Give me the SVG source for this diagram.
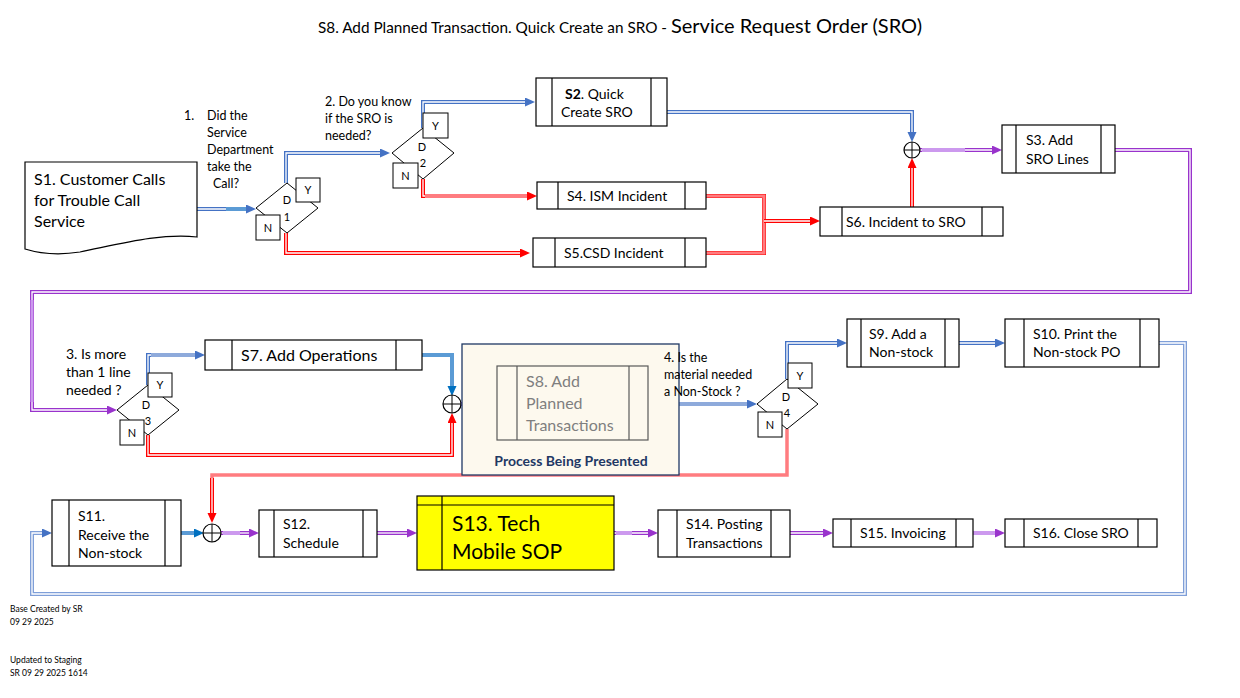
<svg xmlns="http://www.w3.org/2000/svg" width="1240" height="698" viewBox="0 0 1240 698">
<style>
text{font-family:Lato,"Liberation Sans",sans-serif;fill:#000}
.t14{font-size:14px}.t12{font-size:12.5px}.t16{font-size:16px}
.box{fill:#fff;stroke:#000;stroke-width:1.2}
.dv{stroke:#000;stroke-width:1.2}
.dia{fill:#fff;stroke:#000;stroke-width:1}
.yn{fill:#fff;stroke:#000;stroke-width:1}
.lab{font-size:11px}
.b,.r,.p,.lb,.w{fill:none;stroke-linejoin:miter}
.b{stroke:#4472c4;stroke-width:4}
.r{stroke:#ff0000;stroke-width:4}
.p{stroke:#9933cc;stroke-width:4}
.lb{stroke:#7f9fd8;stroke-width:4}
.w{stroke:#fff;stroke-width:1.3}
.sb{fill:none;stroke:#5b9bd5;stroke-width:4}
.sr{fill:none;stroke:#ff7c80;stroke-width:3.5}
.sp{fill:none;stroke:#cc99ee;stroke-width:4}
.sg{fill:none;stroke:#8eaadb;stroke-width:4}
.jn{fill:#fff;stroke:#000;stroke-width:1.2}
.foot{font-size:8.5px}
</style>
<defs>
<marker id="ab" markerUnits="userSpaceOnUse" markerWidth="11" markerHeight="10" refX="0" refY="4.5" orient="auto"><path d="M0,0 L10,4.5 L0,9 z" fill="#4472c4"/></marker>
<marker id="ad" markerUnits="userSpaceOnUse" markerWidth="11" markerHeight="10" refX="0" refY="4.5" orient="auto"><path d="M0,0 L10,4.5 L0,9 z" fill="#0070c0"/></marker>
<marker id="ar" markerUnits="userSpaceOnUse" markerWidth="11" markerHeight="10" refX="0" refY="4.5" orient="auto"><path d="M0,0 L10,4.5 L0,9 z" fill="#ff0000"/></marker>
<marker id="ap" markerUnits="userSpaceOnUse" markerWidth="11" markerHeight="10" refX="0" refY="4.5" orient="auto"><path d="M0,0 L10,4.5 L0,9 z" fill="#9933cc"/></marker>
</defs>

<text x="318" y="33" style="font-size:15.3px">S8. Add Planned Transaction. Quick Create an SRO - <tspan style="font-size:20px">Service Request Order (SRO)</tspan></text>

<g id="connectors">
  <path class="b" d="M197,209 H246" marker-end="url(#ab)"/><path class="w" d="M197,209 H246"/>
  <path class="sb" d="M226,209 H246"/>
  <path class="b" d="M286,183 V153 H380" marker-end="url(#ab)"/><path class="w" d="M286,183 V153 H380"/>
  <path class="r" d="M286,233 V253 H520" marker-end="url(#ar)"/><path class="w" d="M286,233 V253 H520"/>
  <path class="b" d="M423,128 V102 H525" marker-end="url(#ab)"/><path class="w" d="M423,128 V102 H525"/>
  <path class="r" d="M423,179 V196 H527" marker-end="url(#ar)"/><path class="w" d="M423,179 V196 H527"/>
  <path class="sr" d="M425,196 H527" style="stroke-width:4"/>
  <path class="b" d="M667,112 H912 V132" marker-end="url(#ab)"/><path class="w" d="M667,112 H912 V132"/>
  <path class="r" d="M706,196 H764 V253 H706"/><path class="w" d="M706,196 H764 V253 H706"/>
  <path class="sr" d="M706,196 H764 V253 H706" style="stroke-width:3"/>
  <path class="r" d="M764,221 H810" marker-end="url(#ar)"/><path class="w" d="M764,221 H810"/>
  <path class="r" d="M912,207 V168" marker-end="url(#ar)"/><path class="w" d="M912,207 V168"/>
  <path class="p" d="M920,150 H992" marker-end="url(#ap)"/><path class="w" d="M920,150 H992"/>
  <path class="sp" d="M922,150 H965"/>
  <path class="p" d="M1115,150 H1190 V292 H32 V410 H107" marker-end="url(#ap)"/><path class="w" d="M1115,150 H1190 V292 H32 V410 H107"/>
  <path class="sp" d="M32,300 V402" style="stroke-width:3"/>
  <path class="b" d="M148,385 V355 H195" marker-end="url(#ab)"/><path class="w" d="M148,385 V355 H195"/>
  <path class="sg" d="M151,355 H195"/>
  <path class="r" d="M148,435 V455 H452 V423" marker-end="url(#ar)"/><path class="w" d="M148,435 V455 H452 V423"/>
  <path class="sb" d="M422,355 H452 V386" marker-end="url(#ad)"/>
  <path class="p" d="M461,404 H487" marker-end="url(#ap)"/><path class="w" d="M461,404 H487"/>
  <path class="sp" d="M463,404 H478"/>
  <path class="sg" d="M648,404 H747" marker-end="url(#ab)"/>
  <path class="b" d="M787,379 V343 H837" marker-end="url(#ab)"/><path class="w" d="M787,379 V343 H837"/>
  <path class="sr" d="M787,429 V475 H212 V500"/>
  <path class="r" d="M212,478 V513" marker-end="url(#ar)"/><path class="w" d="M212,478 V513"/>
  <path class="b" d="M959,343 H995" marker-end="url(#ab)"/><path class="w" d="M959,343 H995"/>
  <path class="lb" d="M1159,343 H1185 V594 H32 V533 H42" marker-end="url(#ab)"/><path class="w" d="M1159,343 H1185 V594 H32 V533 H42"/>
  <path class="sb" d="M181,533 H194" marker-end="url(#ad)"/>
  <path class="p" d="M221,533 H249" marker-end="url(#ap)"/><path class="w" d="M221,533 H249"/>
  <path class="sp" d="M223,533 H240"/>
  <path class="p" d="M377,533 H407" marker-end="url(#ap)"/><path class="w" d="M377,533 H407"/>
  <path class="p" d="M614,533 H648" marker-end="url(#ap)"/><path class="w" d="M614,533 H648"/>
  <path class="sp" d="M616,533 H632"/>
  <path class="p" d="M790,533 H823" marker-end="url(#ap)"/><path class="w" d="M790,533 H823"/>
  <path class="sp" d="M973,533 H995" marker-end="url(#ap)"/>
</g>

<g id="S1">
  <path d="M25,162 H197 V237 C160,233 120,244 80,252 C55,256 38,253 25,249 Z" fill="#fff" stroke="#000" stroke-width="1.2"/>
  <text class="t16" x="34" y="185">S1. Customer Calls</text>
  <text class="t16" x="34" y="206">for Trouble Call</text>
  <text class="t16" x="34" y="227">Service</text>
</g>

<g id="Q1">
  <text class="t12" x="184" y="120">1.</text>
  <text class="t12" x="207" y="120">Did the</text>
  <text class="t12" x="207" y="137">Service</text>
  <text class="t12" x="207" y="154">Department</text>
  <text class="t12" x="207" y="171">take the</text>
  <text class="t12" x="213" y="188">Call?</text>
</g>
<g id="D1">
  <polygon class="dia" points="256,208 287,183 318,208 287,233"/>
  <rect class="yn" x="296" y="178" width="24" height="24"/>
  <text class="lab" x="308" y="194" text-anchor="middle">Y</text>
  <rect class="yn" x="256" y="215" width="24" height="25"/>
  <text class="lab" x="268" y="232" text-anchor="middle">N</text>
  <text class="lab" x="287" y="204" text-anchor="middle">D</text>
  <text class="lab" x="287" y="221" text-anchor="middle">1</text>
</g>

<g id="Q2">
  <text class="t12" x="325" y="106">2. Do you know</text>
  <text class="t12" x="325" y="123">if the SRO is</text>
  <text class="t12" x="325" y="140">needed?</text>
</g>
<g id="D2">
  <polygon class="dia" points="392,153 423,128 454,153 423,179"/>
  <rect class="yn" x="423" y="113" width="25" height="25"/>
  <text class="lab" x="435.5" y="130" text-anchor="middle">Y</text>
  <rect class="yn" x="393" y="163" width="25" height="25"/>
  <text class="lab" x="405.5" y="180" text-anchor="middle">N</text>
  <text class="lab" x="422" y="151" text-anchor="middle">D</text>
  <text class="lab" x="423" y="167" text-anchor="middle">2</text>
</g>

<g id="S2">
  <rect class="box" x="536" y="78" width="131" height="48"/>
  <line class="dv" x1="552" y1="78" x2="552" y2="126"/><line class="dv" x1="651" y1="78" x2="651" y2="126"/>
  <text class="t14" x="565" y="99"><tspan font-weight="bold">S2</tspan>. Quick</text>
  <text class="t14" x="561" y="117">Create SRO</text>
</g>
<g id="S4">
  <rect class="box" x="537" y="182" width="169" height="27"/>
  <line class="dv" x1="558" y1="182" x2="558" y2="209"/><line class="dv" x1="685" y1="182" x2="685" y2="209"/>
  <text class="t14" x="567" y="201">S4. ISM Incident</text>
</g>
<g id="S5">
  <rect class="box" x="533" y="238" width="173" height="29"/>
  <line class="dv" x1="555" y1="238" x2="555" y2="267"/><line class="dv" x1="685" y1="238" x2="685" y2="267"/>
  <text class="t14" x="564" y="258">S5.CSD Incident</text>
</g>
<g id="S6">
  <rect class="box" x="820" y="207" width="183" height="29"/>
  <line class="dv" x1="842" y1="207" x2="842" y2="236"/><line class="dv" x1="982" y1="207" x2="982" y2="236"/>
  <text class="t14" x="846" y="227">S6. Incident to SRO</text>
</g>
<g id="J1">
  <circle class="jn" cx="912" cy="150" r="8"/>
  <path d="M904,150 H920 M912,142 V158" stroke="#000" stroke-width="1"/>
</g>
<g id="S3">
  <rect class="box" x="1002" y="125" width="113" height="48"/>
  <line class="dv" x1="1016" y1="125" x2="1016" y2="173"/><line class="dv" x1="1101" y1="125" x2="1101" y2="173"/>
  <text class="t14" x="1026" y="145">S3. Add</text>
  <text class="t14" x="1026" y="164">SRO Lines</text>
</g>

<g id="Q3">
  <text class="t14" x="66" y="359">3. Is more</text>
  <text class="t14" x="66" y="377">than 1 line</text>
  <text class="t14" x="66" y="395">needed ?</text>
</g>
<g id="D3">
  <polygon class="dia" points="117,410 148,385 179,410 148,435"/>
  <rect class="yn" x="148" y="373" width="24" height="24"/>
  <text class="lab" x="160" y="389" text-anchor="middle">Y</text>
  <rect class="yn" x="120" y="420" width="24" height="25"/>
  <text class="lab" x="132" y="437" text-anchor="middle">N</text>
  <text class="lab" x="146" y="409" text-anchor="middle">D</text>
  <text class="lab" x="148" y="425" text-anchor="middle">3</text>
</g>
<g id="S7">
  <rect class="box" x="205" y="340" width="217" height="30"/>
  <line class="dv" x1="232" y1="340" x2="232" y2="370"/><line class="dv" x1="396" y1="340" x2="396" y2="370"/>
  <text class="t16" x="241" y="361">S7. Add Operations</text>
</g>
<g id="J2">
  <circle class="jn" cx="452" cy="404" r="9"/>
  <path d="M443,404 H461 M452,395 V413" stroke="#000" stroke-width="1"/>
</g>
<g id="P">
  <rect x="462" y="344" width="217" height="131" fill="#fdf9ee" stroke="#1f3864" stroke-width="1.3"/>
  <text x="571" y="466" text-anchor="middle" style="font-size:14px;font-weight:bold;fill:#1f3864">Process Being Presented</text>
</g>
<g id="S8">
  <rect x="497" y="366" width="151" height="74" fill="#fdf9ee" stroke="#595959" stroke-width="1.2"/>
  <line x1="517" y1="366" x2="517" y2="440" stroke="#595959" stroke-width="1.2"/><line x1="629" y1="366" x2="629" y2="440" stroke="#595959" stroke-width="1.2"/>
  <text class="t16" x="526" y="387" style="fill:#7f7f7f">S8. Add</text>
  <text class="t16" x="526" y="409" style="fill:#7f7f7f">Planned</text>
  <text class="t16" x="526" y="431" style="fill:#7f7f7f">Transactions</text>
</g>
<g id="Q4">
  <text class="t12" x="664" y="362">4. Is the</text>
  <text class="t12" x="664" y="379">material needed</text>
  <text class="t12" x="664" y="396">a Non-Stock ?</text>
</g>
<g id="D4">
  <polygon class="dia" points="757,404 787,379 818,404 787,429"/>
  <rect class="yn" x="788" y="363" width="24" height="25"/>
  <text class="lab" x="800" y="380" text-anchor="middle">Y</text>
  <rect class="yn" x="758" y="412" width="24" height="25"/>
  <text class="lab" x="770" y="429" text-anchor="middle">N</text>
  <text class="lab" x="786" y="401" text-anchor="middle">D</text>
  <text class="lab" x="787" y="417" text-anchor="middle">4</text>
</g>
<g id="S9">
  <rect class="box" x="847" y="319" width="112" height="48"/>
  <line class="dv" x1="861" y1="319" x2="861" y2="367"/><line class="dv" x1="945" y1="319" x2="945" y2="367"/>
  <text class="t14" x="869" y="339">S9. Add a</text>
  <text class="t14" x="869" y="357">Non-stock</text>
</g>
<g id="S10">
  <rect class="box" x="1005" y="319" width="154" height="48"/>
  <line class="dv" x1="1024" y1="319" x2="1024" y2="367"/><line class="dv" x1="1140" y1="319" x2="1140" y2="367"/>
  <text class="t14" x="1033" y="339">S10. Print the</text>
  <text class="t14" x="1033" y="357">Non-stock PO</text>
</g>

<g id="S11">
  <rect class="box" x="52" y="500" width="129" height="66"/>
  <line class="dv" x1="69" y1="500" x2="69" y2="566"/><line class="dv" x1="165" y1="500" x2="165" y2="566"/>
  <text class="t14" x="78" y="521">S11.</text>
  <text class="t14" x="78" y="540">Receive the</text>
  <text class="t14" x="78" y="558">Non-stock</text>
</g>
<g id="J3">
  <circle class="jn" cx="212" cy="533" r="9"/>
  <path d="M203,533 H221 M212,524 V542" stroke="#000" stroke-width="1"/>
</g>
<g id="S12">
  <rect class="box" x="259" y="510" width="118" height="47"/>
  <line class="dv" x1="274" y1="510" x2="274" y2="557"/><line class="dv" x1="363" y1="510" x2="363" y2="557"/>
  <text class="t14" x="283" y="529">S12.</text>
  <text class="t14" x="283" y="548">Schedule</text>
</g>
<g id="S13">
  <rect x="417" y="496" width="197" height="74" fill="#ffff00" stroke="#000" stroke-width="1.2"/>
  <line class="dv" x1="417" y1="505" x2="614" y2="505"/><line class="dv" x1="442" y1="496" x2="442" y2="570"/>
  <text x="452" y="531" style="font-size:21px">S13. Tech</text>
  <text x="452" y="559" style="font-size:21px">Mobile SOP</text>
</g>
<g id="S14">
  <rect class="box" x="658" y="510" width="132" height="47"/>
  <line class="dv" x1="677" y1="510" x2="677" y2="557"/><line class="dv" x1="771" y1="510" x2="771" y2="557"/>
  <text class="t14" x="686" y="529">S14. Posting</text>
  <text class="t14" x="686" y="548">Transactions</text>
</g>
<g id="S15">
  <rect class="box" x="833" y="519" width="140" height="28"/>
  <line class="dv" x1="851" y1="519" x2="851" y2="547"/><line class="dv" x1="956" y1="519" x2="956" y2="547"/>
  <text class="t14" x="860" y="538">S15. Invoicing</text>
</g>
<g id="S16">
  <rect class="box" x="1005" y="519" width="152" height="28"/>
  <line class="dv" x1="1024" y1="519" x2="1024" y2="547"/><line class="dv" x1="1138" y1="519" x2="1138" y2="547"/>
  <text class="t14" x="1033" y="538">S16. Close SRO</text>
</g>

<g id="footer">
  <text class="foot" x="10" y="612">Base Created by SR</text>
  <text class="foot" x="10" y="625">09 29 2025</text>
  <text class="foot" x="10" y="663">Updated to Staging</text>
  <text class="foot" x="10" y="676">SR 09 29 2025 1614</text>
</g>
</svg>
